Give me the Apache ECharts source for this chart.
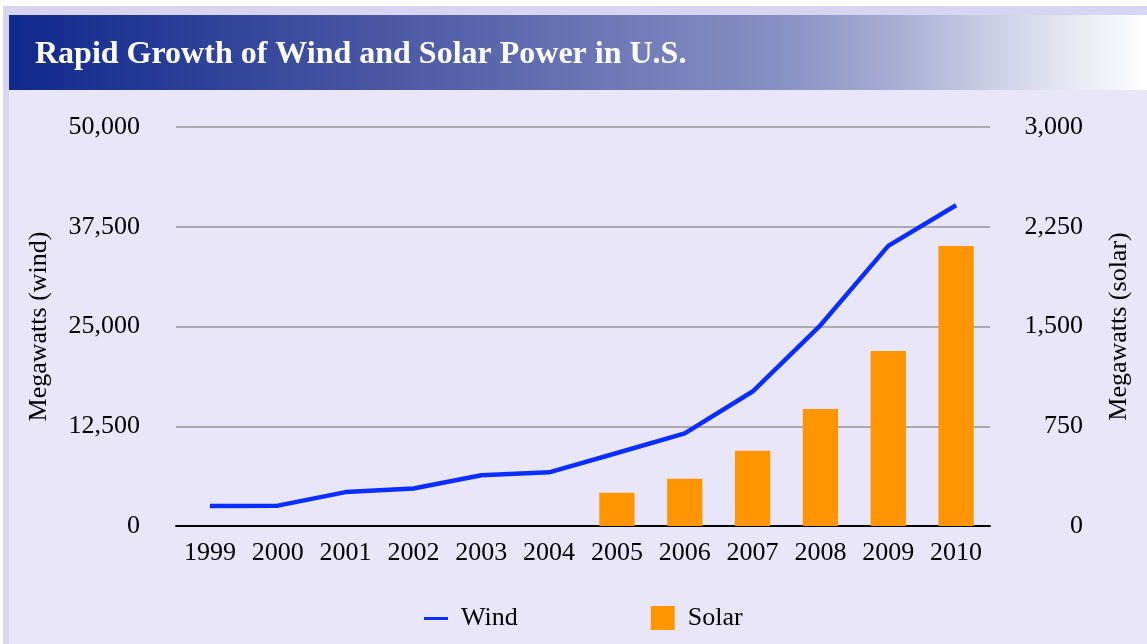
<!DOCTYPE html>
<html>
<head>
<meta charset="utf-8">
<title>Rapid Growth of Wind and Solar Power in U.S.</title>
<script src="https://cdn.jsdelivr.net/npm/echarts@6/dist/echarts.min.js"></script>
<style>
  html, body { margin: 0; padding: 0; background: #fff; }
  #chart { width: 1147px; height: 644px; }
</style>
</head>
<body>
<div id="chart"></div>
<script>
// data
var years = ['1999', '2000', '2001', '2002', '2003', '2004', '2005', '2006', '2007', '2008', '2009', '2010'];
var wind = [2500, 2550, 4250, 4700, 6370, 6730, 9150, 11600, 16850, 25150, 35100, 40200];
var solar = [null, null, null, null, null, null, 250, 355, 565, 880, 1315, 2105];
var windTicks = [0, 12500, 25000, 37500, 50000];
var solarTicks = [0, 750, 1500, 2250, 3000];

var serif = '"Liberation Serif", "DejaVu Serif", serif';

function fmt(v) {
    return v.toLocaleString('en-US');
}

var option = {
    backgroundColor: '#ffffff',
    animation: false,
    graphic: [
        // outer lavender frame
        { type: 'rect', left: 3, top: 6, shape: { width: 1144, height: 638 }, style: { fill: '#d8d5f2' }, z: -10 },
        // panel
        { type: 'rect', left: 9, top: 15, shape: { width: 1138, height: 629 }, style: { fill: '#e9e6fa' }, z: -9 },
        // title bar gradient
        {
            type: 'rect', left: 9, top: 15, shape: { width: 1138, height: 75 }, z: -8,
            style: {
                fill: new echarts.graphic.LinearGradient(0, 0, 1, 0, [
                    { offset: 0, color: '#0f288c' },
                    { offset: 0.33, color: '#4a58a4' },
                    { offset: 0.68, color: '#8891c4' },
                    { offset: 0.78, color: '#a8aed4' },
                    { offset: 0.88, color: '#d2d5e8' },
                    { offset: 1, color: '#ffffff' }
                ])
            }
        }
    ],
    title: {
        text: 'Rapid Growth of Wind and Solar Power in U.S.',
        left: 35,
        top: 39,
        padding: 0,
        textStyle: { color: '#ffffff', fontFamily: serif, fontWeight: 'bold', fontSize: 32 }
    },
    legend: {
        left: 419,
        top: 600,
        itemWidth: 24,
        itemHeight: 24,
        itemGap: 133,
        textStyle: { fontFamily: serif, fontSize: 26, color: '#000', padding: [0, 0, 0, 8] },
        data: [
            { name: 'Wind', icon: 'path://M0,0 L0,0 M0,11 L24,11 L24,14 L0,14 Z M24,24 L24,24' },
            { name: 'Solar', icon: 'rect' }
        ]
    },
    grid: { left: 176, right: 157, top: 127, bottom: 118 },
    xAxis: {
        type: 'category',
        data: years,
        axisTick: { show: false },
        axisLine: { lineStyle: { color: '#000', width: 2 } },
        axisLabel: { color: '#000', fontFamily: serif, fontSize: 26, margin: 14 }
    },
    yAxis: [
        {
            type: 'value',
            min: windTicks[0],
            max: windTicks[windTicks.length - 1],
            interval: windTicks[1] - windTicks[0],
            name: 'Megawatts (wind)',
            nameLocation: 'middle',
            nameGap: 124,
            nameTextStyle: { fontFamily: serif, fontSize: 26, color: '#000' },
            axisLine: { show: false },
            axisTick: { show: false },
            splitLine: { lineStyle: { color: '#aaaaaa', width: 2 } },
            axisLabel: { color: '#000', fontFamily: serif, fontSize: 26, margin: 36, formatter: fmt }
        },
        {
            type: 'value',
            min: solarTicks[0],
            max: solarTicks[solarTicks.length - 1],
            interval: solarTicks[1] - solarTicks[0],
            name: 'Megawatts (solar)',
            nameLocation: 'middle',
            nameGap: 116,
            nameTextStyle: { fontFamily: serif, fontSize: 26, color: '#000' },
            axisLine: { show: false },
            axisTick: { show: false },
            splitLine: { show: false },
            axisLabel: { color: '#000', fontFamily: serif, fontSize: 26, margin: 93, align: 'right', formatter: fmt }
        }
    ],
    series: [
        {
            name: 'Wind',
            type: 'line',
            data: wind,
            yAxisIndex: 0,
            symbol: 'none',
            z: 3,
            color: '#0b2dff',
            lineStyle: { color: '#0b2dff', width: 4.5 }
        },
        {
            name: 'Solar',
            type: 'bar',
            data: solar,
            yAxisIndex: 1,
            barWidth: '52%',
            z: 2,
            color: '#ff9500',
            itemStyle: { color: '#ff9500' }
        }
    ]
};

var myChart = echarts.init(document.getElementById('chart'));
myChart.setOption(option);
</script>
</body>
</html>
